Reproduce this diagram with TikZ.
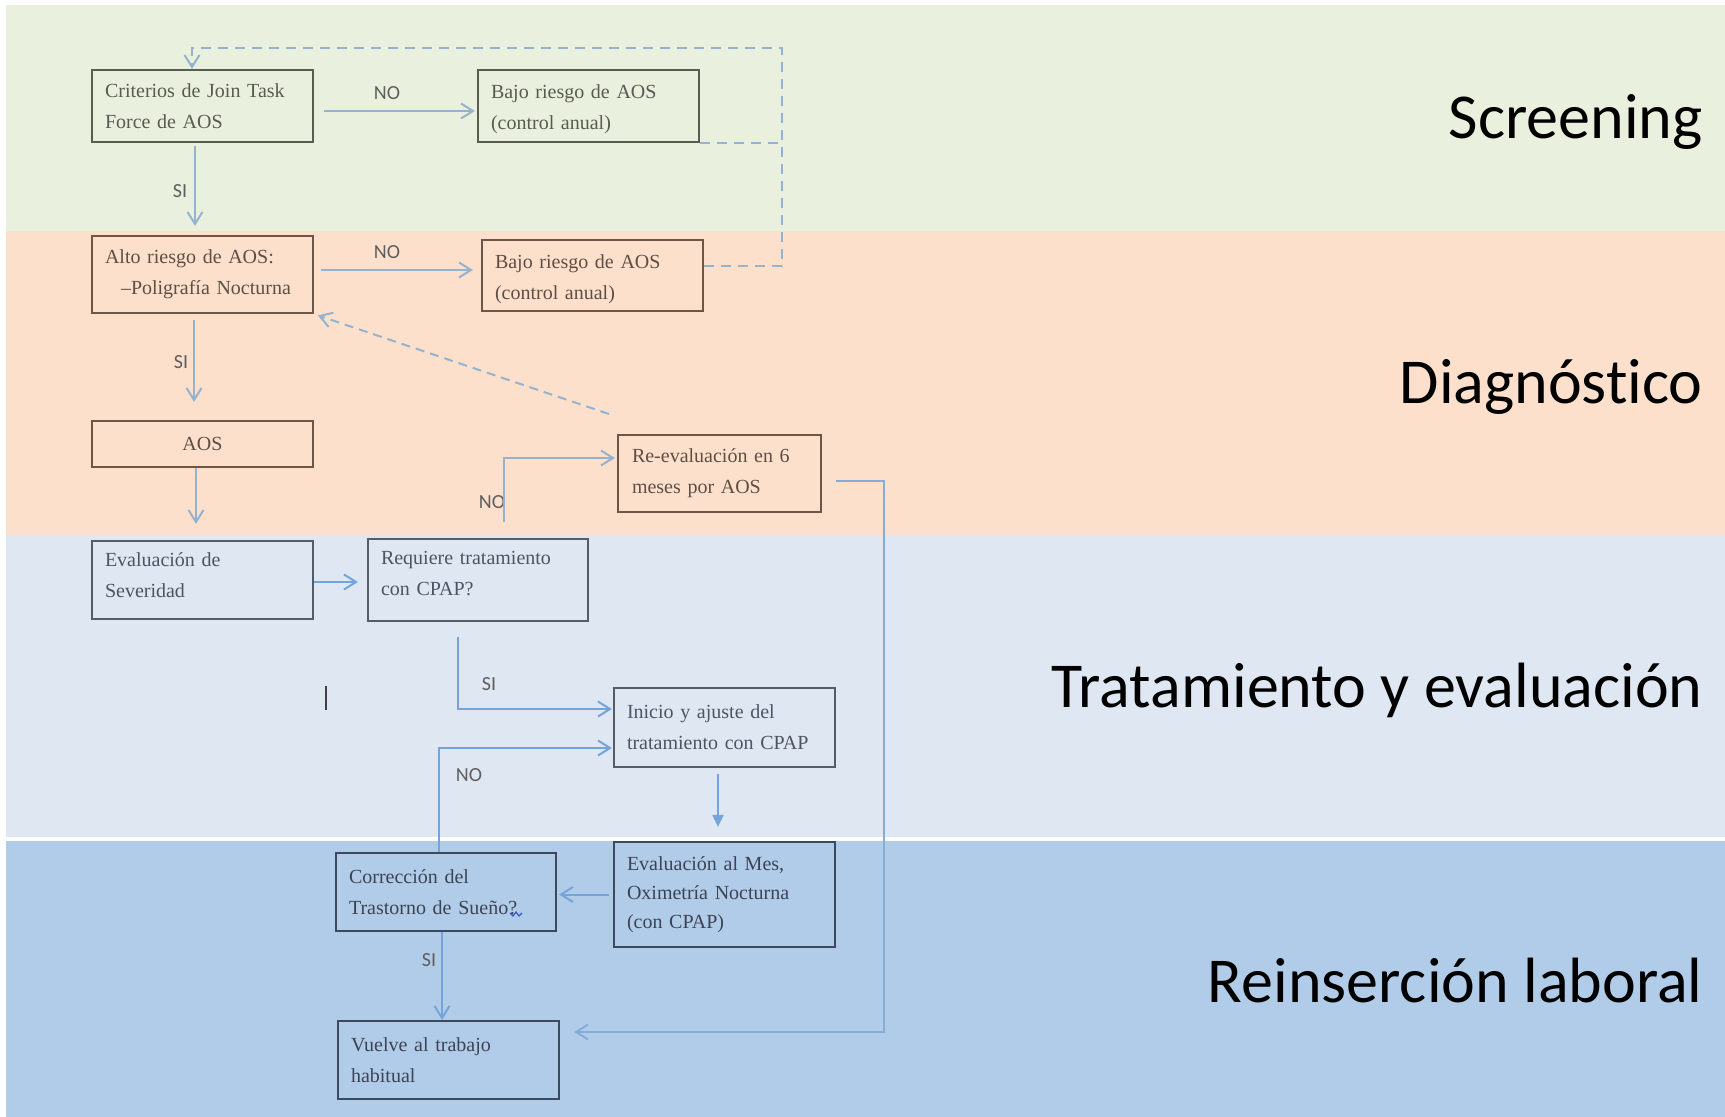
\documentclass[tikz,border=0pt]{standalone}
\usepackage{fontspec}
\setmainfont{Liberation Serif}
\newfontfamily\lblfont[Ligatures=NoCommon]{Carlito}
\usetikzlibrary{arrows.meta}
\definecolor{bandG}{HTML}{E9F0DE}
\definecolor{bandO}{HTML}{FCE0CB}
\definecolor{bandL}{HTML}{DFE7F2}
\definecolor{bandD}{HTML}{B1CCE8}
\definecolor{lineA}{HTML}{95B3CE}
\definecolor{lineB}{HTML}{74A5DA}
\definecolor{lineC}{HTML}{86ADD8}
\definecolor{brdG}{HTML}{575E4E}
\definecolor{brdO}{HTML}{6B5647}
\definecolor{brdL}{HTML}{545C68}
\definecolor{brdD}{HTML}{3D4A5E}
\definecolor{txtG}{HTML}{5A5A50}
\definecolor{txtO}{HTML}{5E4E44}
\definecolor{txtL}{HTML}{4E5562}
\definecolor{txtD}{HTML}{3C4454}
\definecolor{lblc}{HTML}{5E5E5E}
\definecolor{squig}{HTML}{3A55C8}
\begin{document}
\begin{tikzpicture}[x=0.5pt,y=-0.5pt,
  box/.style={draw, line width=1.1pt, inner xsep=6.5pt, inner ysep=0pt, align=left,
    minimum width=110.5pt, text width=97.5pt, font=\fontsize{10}{15.5}\selectfont},
  gbox/.style={box, draw=brdG, text=txtG},
  obox/.style={box, draw=brdO, text=txtO},
  lbox/.style={box, draw=brdL, text=txtL},
  dbox/.style={box, draw=brdD, text=txtD},
  lbl/.style={font=\lblfont\fontsize{10}{12}\selectfont, text=lblc, inner sep=0pt},
  band/.style={font=\lblfont\fontsize{32}{36}\selectfont, text=black, anchor=base east, inner sep=0pt},
  conn/.style={draw=lineA, line width=1pt, -{Straight Barb[length=6pt,width=7.5pt]}},
  connB/.style={draw=lineB, line width=1pt, -{Straight Barb[length=6pt,width=7.5pt]}},
  dconn/.style={draw=lineA, line width=1pt, dash pattern=on 5pt off 3.5pt},
]
\useasboundingbox (0,0) rectangle (1725,1117);
\fill[white] (0,0) rectangle (1725,1117);
\fill[bandG] (6,5) rectangle (1725,231);
\fill[bandO] (6,231) rectangle (1725,535);
\fill[bandL] (6,535) rectangle (1725,837);
\fill[bandD] (6,841) rectangle (1725,1117);

% band titles
\node[band] (tS) at (1703,139) {Screening};
\node[band] (tD) at (1703,404) {Diagnóstico};
\node[band] (tT) at (1703,707) {Tratamiento y evaluación};
\node[band] (tR) at (1703,1002) {Reinserción laboral};

% boxes
\node[gbox, minimum height=36pt] (crit) at (202.5,106) {Criterios de Join Task\\Force de AOS};
\node[gbox, minimum height=36pt] (bajo1) at (588.5,106) {\mbox{}\\[-5.3pt]Bajo riesgo de AOS\\(control anual)};
\node[obox, minimum height=38.5pt] (alto) at (202.5,274.5) {Alto riesgo de AOS:\\\hspace*{8pt}–Poligrafía Nocturna};
\node[obox, minimum height=35.5pt] (bajo2) at (592.5,275.5) {\mbox{}\\[-5.3pt]Bajo riesgo de AOS\\(control anual)};
\node[obox, minimum height=23pt, align=center] (aos) at (202.5,444) {AOS};
\node[obox, minimum height=38.5pt, minimum width=101.5pt, inner xsep=7pt, text width=87.5pt] (reev) at (719.5,473.5) {Re-evaluación en 6\\meses por AOS};
\node[lbox, minimum height=39pt] (sev) at (202.5,580) {Evaluación de\\Severidad\\[-11pt]\mbox{}};
\node[lbox, minimum height=41pt, minimum width=110pt, text width=97pt] (req) at (478,580) {Requiere tratamiento\\con CPAP?\\[-9pt]\mbox{}};
\node[lbox, minimum height=39.5pt] (ini) at (724.5,727.5) {Inicio y ajuste del\\tratamiento con CPAP};
\node[dbox, minimum height=52.5pt, font=\fontsize{10}{14.5}\selectfont] (mes) at (724.5,894.5) {Evaluación al Mes,\\Oximetría Nocturna\\(con CPAP)};
\node[dbox, minimum height=39pt, minimum width=110pt, text width=97pt] (corr) at (446,892) {Corrección del\\Trastorno de Sueño?};
\node[dbox, minimum height=39pt] (vuel) at (448.5,1060) {Vuelve al trabajo\\habitual};

% labels
\node[lbl] (no1) at (387,93) {NO};
\node[lbl] (si1) at (180,191) {SI};
\node[lbl] (no2) at (387,252) {NO};
\node[lbl] (si2) at (181,362) {SI};
\node[lbl] (no3) at (492,502) {NO};
\node[lbl] (si3) at (489,684) {SI};
\node[lbl] (no4) at (469,775) {NO};
\node[lbl] (si4) at (429,960) {SI};

% helper coordinates
\coordinate (dTR) at (782,48);
\coordinate (dTL) at (192,48);
\coordinate (dg) at (609,414);
\coordinate (n3) at (504,522);
\coordinate (xR) at (884,481);

% connectors
\draw[conn, shorten <=5pt, shorten >=1pt] ([yshift=-2.5pt]crit.east) -- ([yshift=-2.5pt]bajo1.west);
\draw[conn, shorten <=1.5pt, shorten >=4.5pt] ([xshift=-3.75pt]crit.south) -- ([xshift=-3.75pt]crit.south |- alto.north);
\draw[dconn] (bajo1.south east) -- (bajo1.south east -| dTR);
\draw[dconn, -{Straight Barb[length=6pt,width=7.5pt]}] ([yshift=4.75pt]bajo2.east) -- ([yshift=4.75pt]bajo2.east -| dTR) -- (dTR) -- (dTL) -- (dTL |- crit.north);
\draw[conn, shorten <=3.5pt, shorten >=4pt] ([yshift=2.25pt]alto.east) -- ([yshift=2.25pt]alto.east -| bajo2.west);
\draw[conn, shorten <=3pt, shorten >=9pt] ([xshift=-4.25pt]alto.south) -- ([xshift=-4.25pt]alto.south |- aos.north);
\draw[conn, shorten >=8pt] ([xshift=-3.25pt]aos.south) -- ([xshift=-3.25pt]aos.south |- sev.north);
\draw[dconn, dash pattern=on 4.5pt off 3pt, shorten >=2pt, -{Straight Barb[length=6pt,width=7.5pt]}] (dg) -- (alto.south east);
\draw[conn, shorten >=1pt] (n3) |- ([yshift=7.75pt]reev.west);
\draw[conn, draw=lineC, shorten <=7pt, shorten >=7pt] ([yshift=-3.75pt]reev.east) -- (xR) |- ([yshift=14pt]vuel.east);
\draw[connB, shorten >=4.5pt] ([yshift=-1pt]sev.east) -- ([yshift=-1pt]sev.east -| req.west);
\draw[connB, shorten <=7.5pt, shorten >=0.5pt] ([xshift=-10pt]req.south) |- ([yshift=9.25pt]ini.west);
\draw[connB, shorten >=0.5pt] ([xshift=-3.5pt]corr.north) |- ([yshift=-10.25pt]ini.west);
\draw[draw=lineB, line width=1pt, -{Triangle[length=6pt,width=5.5pt]}, shorten <=3pt, shorten >=7pt] ([xshift=-3.25pt]ini.south) -- ([xshift=-3.25pt]ini.south |- mes.north);
\draw[connB, shorten <=2pt, shorten >=1pt] (mes.west) -- (mes.west -| corr.east);
\draw[connB] ([xshift=-2pt]corr.south) -- ([xshift=-2pt]corr.south |- vuel.north);

% stray cursor mark and spell-check squiggle
\draw[line width=1pt, color=black!75] (326,686) -- (326,710);
\draw[line width=0.6pt, color=squig] (510,913) -- (513,916) -- (516,912) -- (519,916) -- (522,913);
\end{tikzpicture}
\end{document}
